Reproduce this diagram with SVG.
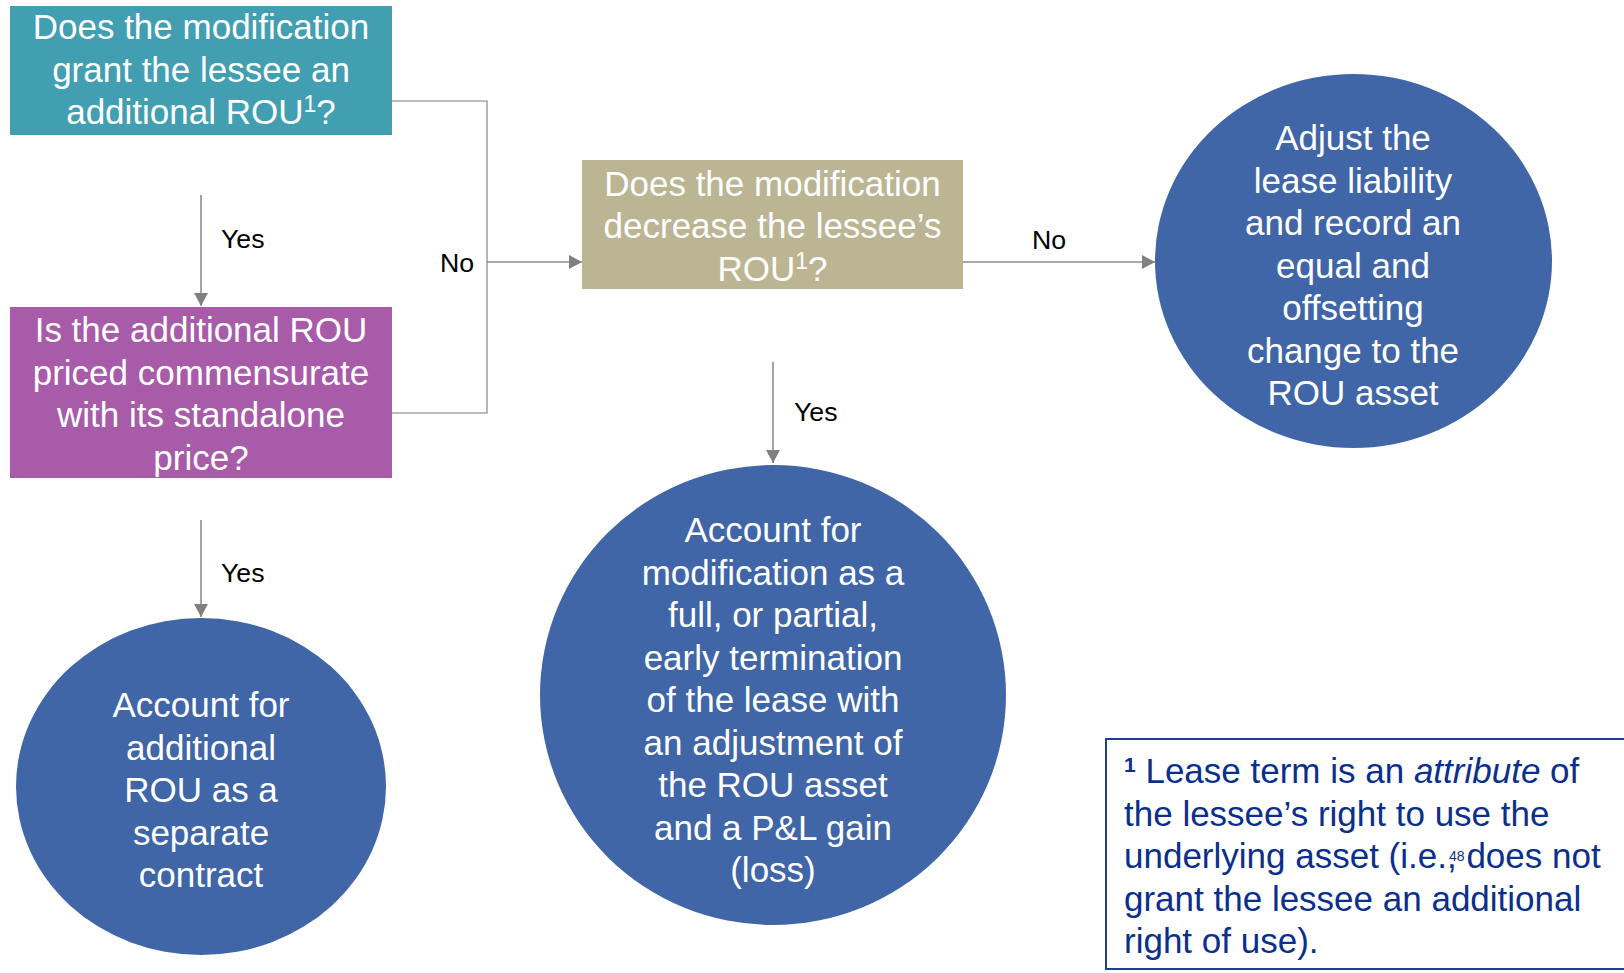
<svg xmlns="http://www.w3.org/2000/svg" width="1624" height="973" viewBox="0 0 1624 973">
  <style>
    .t { font-family: "Liberation Sans", Arial, sans-serif; font-size: 35px; fill: #ffffff; text-anchor: middle; }
    .lbl { font-family: "Liberation Sans", Arial, sans-serif; font-size: 26.7px; fill: #000000; }
    .fn { font-family: "Liberation Sans", Arial, sans-serif; font-size: 35px; fill: #0B2F8C; }
    .conn { fill: none; stroke: #8C8C8C; stroke-width: 1.6; }
    .bracket { fill: none; stroke: #A6A6A6; stroke-width: 1.6; }
    .circ { fill: #4066A8; }
  </style>
  <defs>
    <marker id="arr" markerUnits="userSpaceOnUse" markerWidth="14" markerHeight="14" refX="13" refY="7" orient="auto">
      <path d="M0,0 L13,7 L0,14 Z" fill="#808080"/>
    </marker>
  </defs>
  <rect width="1624" height="973" fill="#ffffff"/>

  <g id="connectors">
    <path class="conn" d="M201,195 V306" marker-end="url(#arr)"/>
    <path class="bracket" d="M392,101 H487 V413 H392"/>
    <path class="conn" d="M487,262 H582" marker-end="url(#arr)"/>
    <path class="conn" d="M963,262 H1155" marker-end="url(#arr)"/>
    <path class="conn" d="M773,362 V463" marker-end="url(#arr)"/>
    <path class="conn" d="M201,520 V617" marker-end="url(#arr)"/>
    <text class="lbl" x="221" y="248">Yes</text>
    <text class="lbl" x="440" y="272">No</text>
    <text class="lbl" x="1032" y="249">No</text>
    <text class="lbl" x="794" y="421">Yes</text>
    <text class="lbl" x="221" y="582">Yes</text>
  </g>

  <g id="q1">
    <rect x="10" y="6" width="382" height="129" fill="#419FB1"/>
    <text class="t" x="201" y="39">Does the modification</text>
    <text class="t" x="201" y="81.5">grant the lessee an</text>
    <text class="t" x="201" y="124">additional ROU<tspan font-size="23" dy="-12">1</tspan><tspan dy="12">?</tspan></text>
  </g>

  <g id="q2">
    <rect x="10" y="307" width="382" height="171" fill="#A75BA9"/>
    <text class="t" x="201" y="342">Is the additional ROU</text>
    <text class="t" x="201" y="384.5">priced commensurate</text>
    <text class="t" x="201" y="427">with its standalone</text>
    <text class="t" x="201" y="469.5">price?</text>
  </g>

  <g id="q3">
    <rect x="582" y="160" width="381" height="129" fill="#BCB594"/>
    <text class="t" x="772.5" y="195.5">Does the modification</text>
    <text class="t" x="772.5" y="238">decrease the lessee’s</text>
    <text class="t" x="772.5" y="280.5">ROU<tspan font-size="23" dy="-12">1</tspan><tspan dy="12">?</tspan></text>
  </g>

  <g id="r1">
    <ellipse class="circ" cx="1353.5" cy="261" rx="198.5" ry="187"/>
    <text class="t" x="1353" y="150">Adjust the</text>
    <text class="t" x="1353" y="192.5">lease liability</text>
    <text class="t" x="1353" y="235">and record an</text>
    <text class="t" x="1353" y="277.5">equal and</text>
    <text class="t" x="1353" y="320">offsetting</text>
    <text class="t" x="1353" y="362.5">change to the</text>
    <text class="t" x="1353" y="405">ROU asset</text>
  </g>

  <g id="r2">
    <ellipse class="circ" cx="773" cy="695" rx="233" ry="230"/>
    <text class="t" x="773" y="542">Account for</text>
    <text class="t" x="773" y="584.5">modification as a</text>
    <text class="t" x="773" y="627">full, or partial,</text>
    <text class="t" x="773" y="669.5">early termination</text>
    <text class="t" x="773" y="712">of the lease with</text>
    <text class="t" x="773" y="754.5">an adjustment of</text>
    <text class="t" x="773" y="797">the ROU asset</text>
    <text class="t" x="773" y="839.5">and a P&amp;L gain</text>
    <text class="t" x="773" y="882">(loss)</text>
  </g>

  <g id="r3">
    <ellipse class="circ" cx="201" cy="786.5" rx="185" ry="168.5"/>
    <text class="t" x="201" y="717">Account for</text>
    <text class="t" x="201" y="759.5">additional</text>
    <text class="t" x="201" y="802">ROU as a</text>
    <text class="t" x="201" y="844.5">separate</text>
    <text class="t" x="201" y="887">contract</text>
  </g>

  <g id="footnote">
    <rect x="1106" y="739" width="530" height="230" fill="#ffffff" stroke="#1F3E8C" stroke-width="2"/>
    <text class="fn" x="1124" y="783"><tspan font-size="21" font-weight="bold" dy="-11">1</tspan><tspan dy="11"> Lease term is an </tspan><tspan font-style="italic">attribute</tspan> of</text>
    <text class="fn" x="1124" y="825.5">the lessee’s right to use the</text>
    <text class="fn" x="1124" y="868">underlying asset (i.e., does not</text>
    <text class="fn" x="1124" y="910.5">grant the lessee an additional</text>
    <text class="fn" x="1124" y="953">right of use).</text>
    <text x="1449" y="861" font-family="Liberation Sans, Arial, sans-serif" font-size="14" fill="#0B2F8C">48</text>
  </g>
</svg>
